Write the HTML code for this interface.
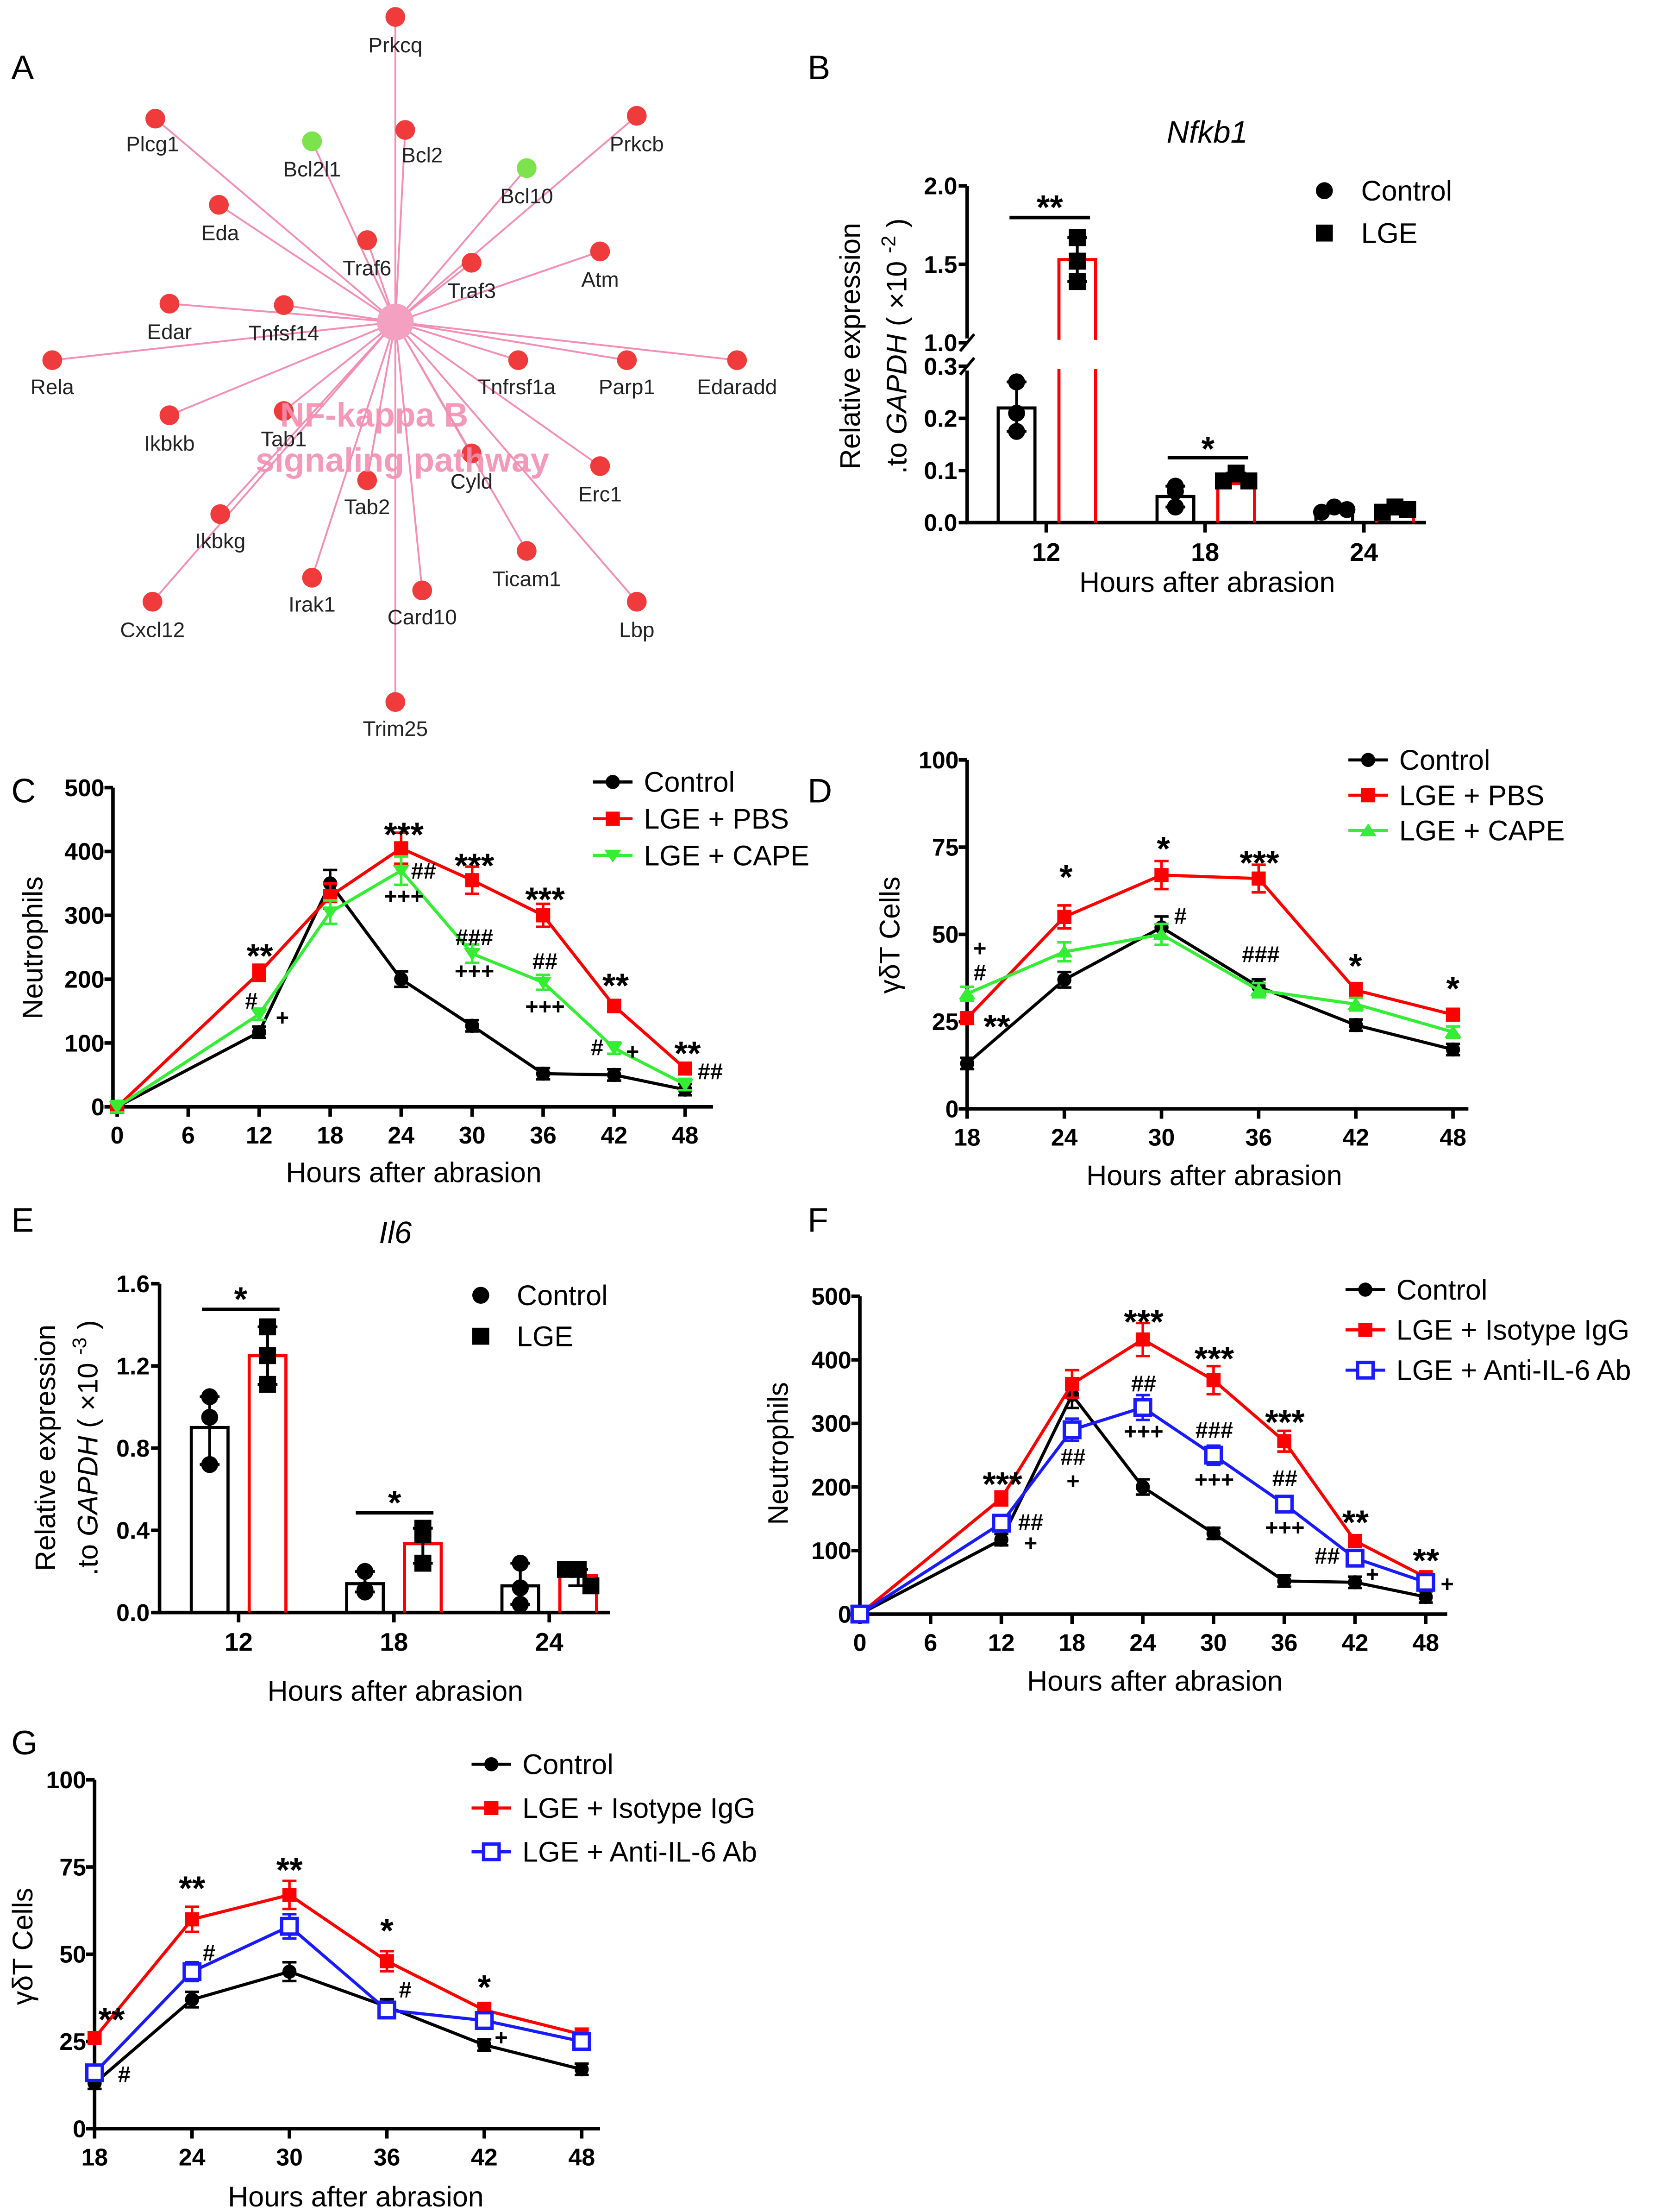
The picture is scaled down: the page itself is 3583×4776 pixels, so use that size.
<!DOCTYPE html>
<html><head><meta charset="utf-8"><style>
html,body{margin:0;padding:0;background:#fff}
svg{display:block}
text{font-family:"Liberation Sans",Arial,sans-serif}
</style></head><body>
<svg id="fig" xmlns="http://www.w3.org/2000/svg" width="3583" height="4776" viewBox="0 0 1175 1566" preserveAspectRatio="none">
<g id="pA"></g>
<g id="pB"></g>
<g id="pC"></g>
<g id="pD"></g>
<g id="pE"></g>
<g id="pF"></g>
<g id="pG"></g>
</svg>
<script>
// ---------- Panel A network ----------
const netNames=["Prkcq","Plcg1","Bcl2l1","Bcl2","Prkcb","Bcl10","Eda","Traf6","Traf3","Atm","Edar","Tnfsf14","Rela","Tnfrsf1a","Parp1","Edaradd","Ikbkb","Tab1","Cyld","Erc1","Tab2","Ikbkg","Ticam1","Cxcl12","Irak1","Card10","Lbp","Trim25"];
const netGreen=["Bcl2l1","Bcl10"];
// ---------- Panel B ----------
const bCats=["12","18","24"];
const bControl=[0.22,0.05,0.025];
const bLGE=[1.53,0.075,0.025];
const bCtrlPts=[[0.27,0.21,0.175],[0.07,0.03,0.06],[0.02,0.03,0.025]];
const bLgePts=[[1.67,1.52,1.39],[0.08,0.095,0.08],[0.02,0.03,0.025]];
// ---------- Panel C ----------
const cHours=[0,12,18,24,30,36,42,48];
const cControl=[0,117,350,200,127,52,50,27];
const cPBS=[0,210,330,405,355,300,158,60];
const cCAPE=[0,145,305,370,240,195,92,35];
const cYTicks=[0,100,200,300,400,500];
const cXTicks=[0,6,12,18,24,30,36,42,48];
// ---------- Panel D ----------
const dHours=[18,24,30,36,42,48];
const dControl=[13,37,52,35,24,17];
const dPBS=[26,55,67,66,34,27];
const dCAPE=[33,45,50,34,30,22];
const dYTicks=[0,25,50,75,100];
// ---------- Panel E ----------
const eCats=["12","18","24"];
const eControl=[0.90,0.14,0.13];
const eLGE=[1.25,0.335,0.18];
const eCtrlPts=[[1.05,0.95,0.72],[0.2,0.11,0.1],[0.24,0.12,0.04]];
const eLgePts=[[1.39,1.25,1.11],[0.41,0.38,0.24],[0.21,0.21,0.13]];
// ---------- Panel F ----------
const fHours=[0,12,18,24,30,36,42,48];
const fControl=[0,117,345,200,127,52,50,27];
const fIgG=[0,182,362,432,368,272,115,58];
const fAnti=[0,143,290,325,250,173,88,50];
// ---------- Panel G ----------
const gHours=[18,24,30,36,42,48];
const gControl=[13,37,45,35,24,17];
const gIgG=[26,60,67,48,34,27];
const gAnti=[16,45,58,34,31,25];

const NS="http://www.w3.org/2000/svg";
function mk(parent,tag,attrs,txt){const e=document.createElementNS(NS,tag);for(const k in attrs)e.setAttribute(k,attrs[k]);if(txt!==undefined)e.textContent=txt;parent.appendChild(e);return e;}
function ann(g,x,cy,s){
 const star=s.indexOf('*')>=0;
 const t=mk(g,'text',{x:x,y:star?cy+13:cy+6,'font-size':star?24:16,'font-weight':'bold','text-anchor':'middle'},s);
 
 
}

// ===== A =====
(function(){
const g=document.getElementById('pA');
const pos={Prkcq:[280,12,0,20],Plcg1:[110,84,-2,18],Bcl2l1:[221,100,0,20],Bcl2:[287,92,12,18],Prkcb:[451,82,0,20],Bcl10:[373,119,0,20],Eda:[155,145,1,20],Traf6:[260,170,0,20],Traf3:[334,186,0,20],Atm:[425,178,0,20],Edar:[120,215,0,20],Tnfsf14:[201,216,0,20],Rela:[37,255,0,19],Tnfrsf1a:[367,255,-1,19],Parp1:[444,255,0,19],Edaradd:[522,255,0,19],Ikbkb:[120,294,0,20],Tab1:[201,291,0,20],Cyld:[334,321,0,20],Erc1:[425,330,0,20],Tab2:[260,340,0,19],Ikbkg:[156,364,0,19],Ticam1:[373,390,0,20],Cxcl12:[108,426,0,20],Irak1:[221,409,0,19],Card10:[299,418,0,19],Lbp:[451,426,0,20],Trim25:[280,497,0,19]};
const cx=280,cy=228;
mk(g,'text',{x:8,y:56,'font-size':24,fill:'#000',},'A');
netNames.forEach(n=>{const p=pos[n];
 const l=mk(g,'line',{x1:cx,y1:cy,x2:p[0],y2:p[1],stroke:'#f48fb1','stroke-width':1.3});
 
 });
mk(g,'circle',{cx:cx,cy:cy,r:13,fill:'#f4a0c0',});
netNames.forEach(n=>{const p=pos[n];
 const c=mk(g,'circle',{cx:p[0],cy:p[1],r:7,fill:netGreen.includes(n)?'#7ce34c':'#ef3b3b'});
 
 
 const t=mk(g,'text',{x:p[0]+p[2],y:p[1]+p[3]+5,'font-size':15,'text-anchor':'middle',fill:'#222'},n);
 
 });
mk(g,'text',{x:265,y:302,'font-size':24,'font-weight':'bold','text-anchor':'middle',fill:'#f48fb1',opacity:0.9,},'NF-kappa B');
mk(g,'text',{x:285,y:334,'font-size':24,'font-weight':'bold','text-anchor':'middle',fill:'#f48fb1',opacity:0.9,},'signaling pathway');
})();

// ===== bar chart helper =====
function barChart(g,o){
 const ax=o.ax, y0=o.y0;
 mk(g,'text',{x:o.letter[0],y:o.letter[1],'font-size':24,},o.letterText);
 mk(g,'text',{x:o.titleX,y:o.titleY,'font-size':22,'font-style':'italic','text-anchor':'middle',},o.title);
 if(o.broken){
  mk(g,'path',{d:`M${ax},${o.yU(2.0)}V${o.yU(1.0)-3}`,stroke:'#000','stroke-width':2.5,fill:'none',});
  mk(g,'path',{d:`M${ax},${o.yL(0.3)+3}V${y0}`,stroke:'#000','stroke-width':2.5,fill:'none',});
  mk(g,'path',{d:`M${ax-5},${o.yU(1.0)+6}L${ax+5},${o.yU(1.0)-6}M${ax-5},${o.yL(0.3)+6}L${ax+5},${o.yL(0.3)-6}`,stroke:'#000','stroke-width':2,});
 } else {
  mk(g,'path',{d:`M${ax},${o.y(o.ymax)}V${y0}`,stroke:'#000','stroke-width':2.5,fill:'none',});
 }
 mk(g,'path',{d:`M${ax-1},${y0}H${o.axEnd}`,stroke:'#000','stroke-width':2.5,});
 o.ticks.forEach(t=>{const yy=o.tickY(t);
  mk(g,'line',{x1:ax-6,y1:yy,x2:ax,y2:yy,stroke:'#000','stroke-width':2.5});
  const tx=mk(g,'text',{x:ax-7,y:yy+6,'font-size':17,'font-weight':'bold','text-anchor':'end'},o.fmt(t));
  
  });
 o.cats.forEach((c,i)=>{const gx=o.gx(i);
  mk(g,'line',{x1:gx,y1:y0,x2:gx,y2:y0+7,stroke:'#000','stroke-width':2.5});
  const tx=mk(g,'text',{x:gx,y:y0+27,'font-size':18,'font-weight':'bold','text-anchor':'middle'},c);
  
  
  [[o.ctrl,o.ctrlPts,'#000',o.offL,'circle'],[o.lge,o.lgePts,'#ff0000',o.offR,'square']].forEach(([vals,pts,col,off,sh],si)=>{
   const bx=gx+off-o.bw/2, top=o.val(vals[i]);
   const r=mk(g,'path',{d:`M${bx},${y0}V${top}H${bx+o.bw}V${y0}`,stroke:col,'stroke-width':2.2,fill:'none'});
   
   
   if(o.broken && vals[i]>0.3){ mk(g,'rect',{x:bx-3,y:o.yU(1.0)-2,width:o.bw+6,height:o.yL(0.3)-o.yU(1.0)+4,fill:'#fff'}); }
   const p=pts[i], mn=Math.min(...p), mx=Math.max(...p);
   mk(g,'path',{d:`M${gx+off},${o.val(mx)}V${o.val(mn)}M${gx+off-7},${o.val(mx)}h14M${gx+off-7},${o.val(mn)}h14`,stroke:'#000','stroke-width':2});
   const spread=(o.val(mn)-o.val(mx))<14?9:0;
   p.forEach((v,k)=>{const px=gx+off+(k-1)*spread, py=o.val(v);
    const m= sh==='circle'?mk(g,'circle',{cx:px,cy:py,r:6,fill:'#000'}):mk(g,'rect',{x:px-6,y:py-6,width:12,height:12,fill:'#000'});
    
    });
  });
 });
 o.sig.forEach(s=>{mk(g,'line',{x1:s[0],y1:s[2],x2:s[1],y2:s[2],stroke:'#000','stroke-width':2.5,});
  ann(g,(s[0]+s[1])/2,s[3],s[4]);});
 mk(g,'circle',{cx:o.leg[0],cy:o.leg[1],r:6,fill:'#000',});
 mk(g,'text',{x:o.leg[2],y:o.leg[1]+7,'font-size':20,},'Control');
 mk(g,'rect',{x:o.leg[0]-6,y:o.leg[3]-6,width:12,height:12,fill:'#000',});
 mk(g,'text',{x:o.leg[2],y:o.leg[3]+7,'font-size':20,},'LGE');
 const yl=mk(g,'text',{transform:`translate(${o.ylab[0]},${o.ylab[1]}) rotate(-90)`,'font-size':20,'text-anchor':'middle',});
 yl.innerHTML='<tspan x="0" dy="0">Relative expression</tspan><tspan x="0" dy="'+o.ylab[2]+'">.to <tspan font-style="italic">GAPDH</tspan> ( ×10 <tspan dy="-8" font-size="14">'+o.exp+'</tspan><tspan dy="8"> )</tspan></tspan>';
 mk(g,'text',{x:o.xlab[0],y:o.xlab[1],'font-size':20,'text-anchor':'middle',},'Hours after abrasion');
}

// B
(function(){
 const g=document.getElementById('pB');
 const y0=370, yU=v=>242.6-(v-1.0)*111, yL=v=>y0-v*369;
 barChart(g,{ax:685,y0,axEnd:1010,broken:true,yU,yL,val:v=>v>0.3?yU(v):yL(v),
  ticks:[0,0.1,0.2,0.3,1.0,1.5,2.0],tickY:t=>t>0.3?yU(t):yL(t),fmt:t=>t.toFixed(1),
  cats:bCats,gx:i=>741+i*112.5,offL:-21,offR:22,bw:26,ctrl:bControl,lge:bLGE,ctrlPts:bCtrlPts,lgePts:bLgePts,
  sig:[[715,772,154,142,'**'],[827,884,324,313,'*']],leg:[938,135,964,165],ylab:[609,245,33],xlab:[855,419],exp:'-2',
  titleX:855,titleY:101,title:'Nfkb1',letter:[572,56],letterText:'B'});
})();
// E
(function(){
 const g=document.getElementById('pE');
 const y0=1141.6, y=v=>y0-v*145.5;
 barChart(g,{ax:113,y0,axEnd:432,broken:false,y,ymax:1.6,val:y,
  ticks:[0,0.4,0.8,1.2,1.6],tickY:y,fmt:t=>t.toFixed(1),
  cats:eCats,gx:i=>169+i*110,offL:-20.5,offR:20.5,bw:26,ctrl:eControl,lge:eLGE,ctrlPts:eCtrlPts,lgePts:eLgePts,
  sig:[[143,198,927,915,'*'],[252,307,1071,1059,'*']],leg:[340.5,917,366,946],ylab:[39,1025,30],xlab:[280,1204],exp:'-3',
  titleX:280,titleY:880,title:'Il6',letter:[8,872],letterText:'E'});
})();

// ===== line chart helper =====
function marker(g,s,px,py){
 if(s==='circle') return mk(g,'circle',{cx:px,cy:py,r:5,fill:arguments[4]});
}
function lineChart(g,o){
 const X=h=>o.x0+(h-o.h0)*o.xs, Y=v=>o.y0-v*o.ys;
 mk(g,'text',{x:o.letter[0],y:o.letter[1],'font-size':24,},o.letterText);
 mk(g,'path',{d:`M${o.axX},${Y(o.ymax)}V${o.y0}H${o.axEnd}`,stroke:'#000','stroke-width':2.5,fill:'none',});
 o.yt.forEach(t=>{mk(g,'line',{x1:o.axX-6,y1:Y(t),x2:o.axX,y2:Y(t),stroke:'#000','stroke-width':2.5});
  const tx=mk(g,'text',{x:o.axX-6,y:Y(t)+6,'font-size':17,'font-weight':'bold','text-anchor':'end'},t);
  
  });
 o.xt.forEach(t=>{mk(g,'line',{x1:X(t),y1:o.y0,x2:X(t),y2:o.y0+7,stroke:'#000','stroke-width':2.5});
  const tx=mk(g,'text',{x:X(t),y:o.y0+26,'font-size':17,'font-weight':'bold','text-anchor':'middle'},t);
  
  });
 const drawM=(m,px,py,c)=>{
  if(m==='circle') return mk(g,'circle',{cx:px,cy:py,r:5,fill:c});
  if(m==='square') return mk(g,'rect',{x:px-5,y:py-5,width:10,height:10,fill:c});
  if(m==='tri') return mk(g,'path',{d:`M${px-6},${py-4}h12l-6,9z`,fill:c});
  if(m==='triup') return mk(g,'path',{d:`M${px-6},${py+4}h12l-6,-9z`,fill:c});
  return mk(g,'rect',{x:px-5.5,y:py-5.5,width:11,height:11,fill:'#fff',stroke:c,'stroke-width':2.4});
 };
 o.series.forEach((s,si)=>{
  const pts=o.hours.map((h,i)=>X(h)+','+Y(s.v[i])).join(' ');
  const pl=mk(g,'polyline',{points:pts,fill:'none',stroke:s.c,'stroke-width':2.2});
  
  
  o.hours.forEach((h,i)=>{const px=X(h),py=Y(s.v[i]),e=Math.max(4,s.v[i]*0.06*o.ys);
   mk(g,'path',{d:`M${px},${py-e}V${py+e}M${px-5},${py-e}h10M${px-5},${py+e}h10`,stroke:s.c,'stroke-width':1.8});
   const m=drawM(s.m,px,py,s.c);
   
   });
  const ly=o.leg[1]+si*o.legGap;
  mk(g,'line',{x1:o.leg[0],y1:ly,x2:o.leg[0]+28,y2:ly,stroke:s.c,'stroke-width':2.2});
  drawM(s.m,o.leg[0]+14,ly,s.c);
  const lt=mk(g,'text',{x:o.leg[0]+36,y:ly+7,'font-size':20},s.label);
  
  
 });
 o.ann.forEach(a=>ann(g,a[0],a[1],a[2]));
 mk(g,'text',{transform:`translate(${o.ylab[0]},${o.ylab[1]}) rotate(-90)`,'font-size':20,'text-anchor':'middle',},o.ytitle);
 mk(g,'text',{x:o.xlab[0],y:o.xlab[1],'font-size':20,'text-anchor':'middle',},'Hours after abrasion');
}

// C
lineChart(document.getElementById('pC'),{x0:83,h0:0,xs:8.38,y0:783.6,ys:0.452,ymax:500,axX:80,axEnd:505,
 hours:cHours,yt:cYTicks,xt:cXTicks,
 series:[{n:'control',label:'Control',v:cControl,c:'#000',m:'circle'},{n:'lge-pbs',label:'LGE + PBS',v:cPBS,c:'#ff0000',m:'square'},{n:'lge-cape',label:'LGE + CAPE',v:cCAPE,c:'#33ee33',m:'tri'}],
 leg:[420,553.6],legGap:26,letter:[8,568],letterText:'C',ylab:[30,671],xlab:[293,837],ytitle:'Neutrophils',
 ann:[[184,672,'**'],[178,708,'#'],[200,720,'+'],[286,586,'***'],[300,616,'##'],[286,634,'+++'],[336,608,'***'],[336,663,'###'],[336,687,'+++'],[386,632,'***'],[386,680,'##'],[386,712,'+++'],[436,693,'**'],[423,741,'#'],[448,744,'+'],[487,741,'**'],[503,758,'##']]});
// D
lineChart(document.getElementById('pD'),{x0:685,h0:18,xs:11.47,y0:785,ys:2.47,ymax:100,axX:685,axEnd:1040,
 hours:dHours,yt:dYTicks,xt:dHours,
 series:[{n:'control',label:'Control',v:dControl,c:'#000',m:'circle'},{n:'lge-pbs',label:'LGE + PBS',v:dPBS,c:'#ff0000',m:'square'},{n:'lge-cape',label:'LGE + CAPE',v:dCAPE,c:'#33ee33',m:'triup'}],
 leg:[955,538],legGap:25,letter:[572,568],letterText:'D',ylab:[637,662],xlab:[860,839],ytitle:'γδT  Cells',
 ann:[[694,671,'+'],[694,688,'#'],[706,722,'**'],[755,616,'*'],[824,596,'*'],[836,648,'#'],[892,606,'***'],[893,675,'###'],[960,679,'*'],[1029,695,'*']]});
// F
lineChart(document.getElementById('pF'),{x0:609,h0:0,xs:8.35,y0:1142.7,ys:0.45,ymax:500,axX:609,axEnd:1025,
 hours:fHours,yt:cYTicks,xt:cXTicks,
 series:[{n:'control',label:'Control',v:fControl,c:'#000',m:'circle'},{n:'lge-isotype-igg',label:'LGE + Isotype IgG',v:fIgG,c:'#ff0000',m:'square'},{n:'lge-anti-il6',label:'LGE + Anti-IL-6 Ab',v:fAnti,c:'#1a1aff',m:'osquare'}],
 leg:[953,913],legGap:28.5,letter:[572,872],letterText:'F',ylab:[558,1029],xlab:[818,1197],ytitle:'Neutrophils',
 ann:[[710,1046,'***'],[730,1077,'##'],[730,1092,'+'],[760,1031,'##'],[760,1048,'+'],[810,931,'***'],[810,979,'##'],[810,1013,'+++'],[860,957,'***'],[860,1012,'###'],[860,1047,'+++'],[910,1002,'***'],[910,1046,'##'],[910,1081,'+++'],[960,1073,'**'],[940,1101,'##'],[972,1114,'+'],[1010,1100,'**'],[1025,1121,'+']]});
// G
lineChart(document.getElementById('pG'),{x0:67,h0:18,xs:11.5,y0:1507,ys:2.47,ymax:100,axX:67,axEnd:425,
 hours:gHours,yt:dYTicks,xt:gHours,
 series:[{n:'control',label:'Control',v:gControl,c:'#000',m:'circle'},{n:'lge-isotype-igg',label:'LGE + Isotype IgG',v:gIgG,c:'#ff0000',m:'square'},{n:'lge-anti-il6',label:'LGE + Anti-IL-6 Ab',v:gAnti,c:'#1a1aff',m:'osquare'}],
 leg:[334,1249],legGap:31,letter:[8,1242],letterText:'G',ylab:[23,1378],xlab:[252,1562],ytitle:'γδT  Cells',
 ann:[[79,1425,'**'],[88,1468,'#'],[136,1332,'**'],[148,1382,'#'],[205,1319,'**'],[274,1362,'*'],[287,1408,'#'],[343,1402,'*'],[355,1442,'+']]});
</script>
</body></html>
